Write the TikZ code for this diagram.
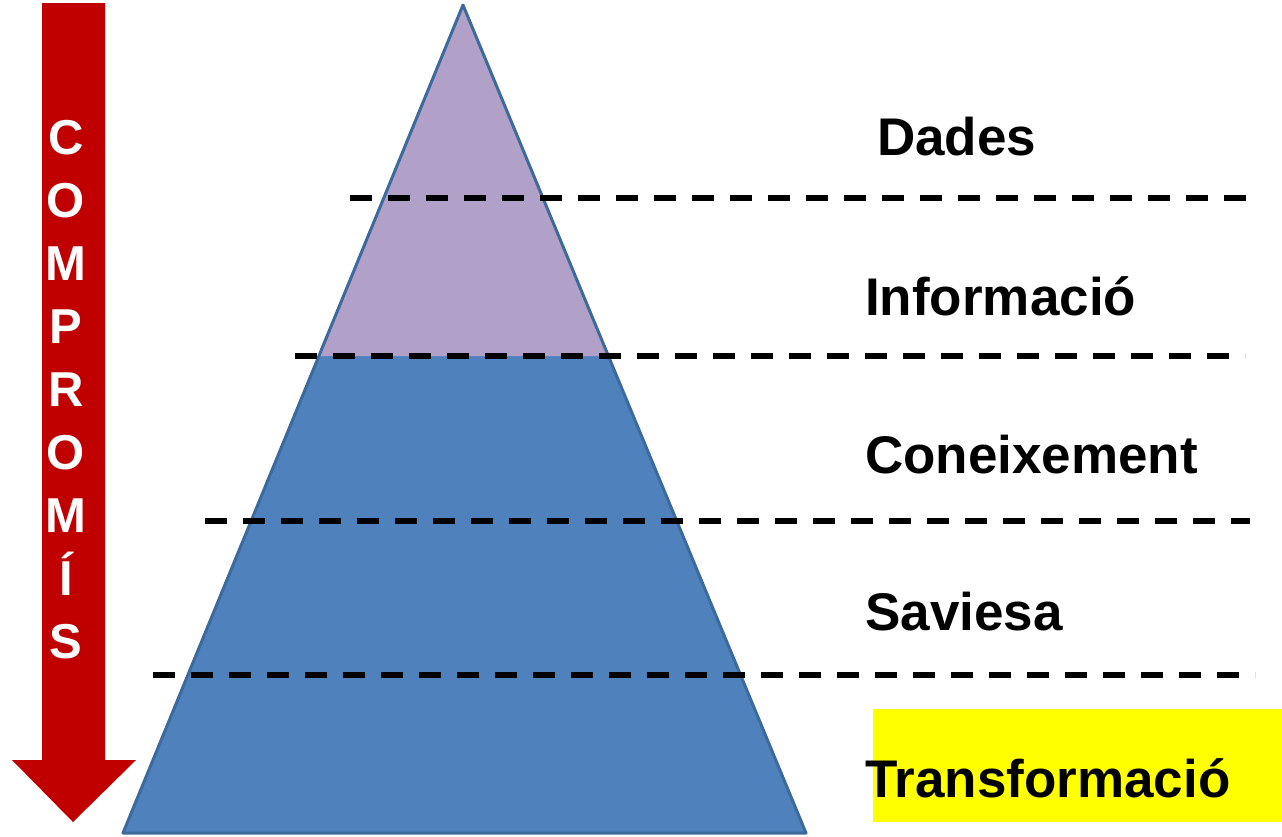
\documentclass[tikz,border=0pt]{standalone}
\usepackage{fontspec}
\setmainfont{Liberation Sans}
\usepackage{tikz}
\definecolor{arrowred}{HTML}{C00000}
\definecolor{pyrblue}{HTML}{4F81BD}
\definecolor{pyredge}{HTML}{3D6A9C}
\definecolor{pyrlilac}{HTML}{B1A0C7}
\definecolor{hiyellow}{HTML}{FFFF00}

\begin{document}
\begin{tikzpicture}[x=1pt,y=-1pt,
    level/.style={font={\fontsize{53}{60}\selectfont\bfseries},anchor=west,inner sep=0pt},
    cut/.style={dashed,dash pattern=on 22pt off 16pt,line width=5.5pt,black},
    vtext/.style={font={\fontsize{49}{63}\selectfont\bfseries},white,align=center,inner sep=0pt}]

    \useasboundingbox (0,0) rectangle (1282,836);

    % arrow on the left
    \fill[arrowred] (42,3) -- (105,3) -- (105,760) -- (136,760) -- (73,822)
                    -- (12,760) -- (42,760) -- cycle;
    \node[vtext] (commit) at (66,390) {C\\O\\M\\P\\R\\O\\M\\Í\\S};

    % pyramid
    \coordinate (Apex) at (463,5);
    \coordinate (BaseL) at (123,833);
    \coordinate (BaseR) at (806,833);

    \fill[pyrblue] (Apex) -- (BaseL) -- (BaseR) -- cycle;
    \fill[pyrlilac] (Apex) -- (319,356) -- (608,356) -- cycle;
    \draw[pyredge,line width=3pt,line join=round] (Apex) -- (BaseL) -- (BaseR) -- cycle;

    % cuts
    \draw[cut] (350,198) -- (1250,198);
    \draw[cut] (295,356) -- (1245,356);
    \draw[cut] (205,521) -- (1250,521);
    \draw[cut] (153,675) -- (1255,675);

    \fill[hiyellow] (873,709) rectangle (1282,822);

    \path (877,137) node[level] (dades) {Dades}
          (865,296) node[level] (info) {Informació}
          (865,455) node[level] (know) {Coneixement}
          (865,612) node[level] (wise) {Saviesa}
          (865,778) node[level] (trans) {Transformació};

\end{tikzpicture}
\end{document}
